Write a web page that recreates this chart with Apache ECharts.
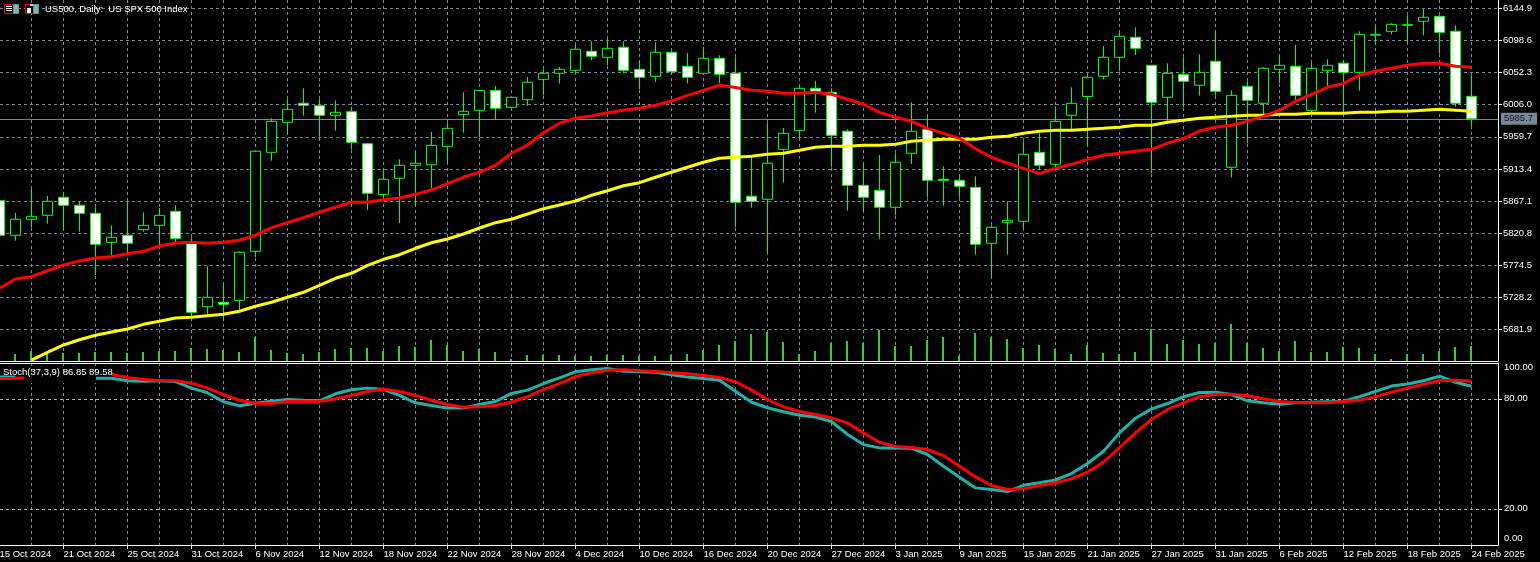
<!DOCTYPE html>
<html><head><meta charset="utf-8">
<style>html,body{margin:0;padding:0;background:#000}#c{width:1540px;height:562px}</style>
<script src="https://cdn.jsdelivr.net/npm/echarts@6/dist/echarts.min.js"></script>
</head><body><div id="c"></div>
<script>
const dates=["15 Oct 2024","16 Oct 2024","17 Oct 2024","18 Oct 2024","21 Oct 2024","22 Oct 2024","23 Oct 2024","24 Oct 2024","25 Oct 2024","28 Oct 2024","29 Oct 2024","30 Oct 2024","31 Oct 2024","1 Nov 2024","4 Nov 2024","5 Nov 2024","6 Nov 2024","7 Nov 2024","8 Nov 2024","11 Nov 2024","12 Nov 2024","13 Nov 2024","14 Nov 2024","15 Nov 2024","18 Nov 2024","19 Nov 2024","20 Nov 2024","21 Nov 2024","22 Nov 2024","25 Nov 2024","26 Nov 2024","27 Nov 2024","28 Nov 2024","29 Nov 2024","2 Dec 2024","3 Dec 2024","4 Dec 2024","5 Dec 2024","6 Dec 2024","9 Dec 2024","10 Dec 2024","11 Dec 2024","12 Dec 2024","13 Dec 2024","16 Dec 2024","17 Dec 2024","18 Dec 2024","19 Dec 2024","20 Dec 2024","23 Dec 2024","24 Dec 2024","26 Dec 2024","27 Dec 2024","30 Dec 2024","31 Dec 2024","2 Jan 2025","3 Jan 2025","6 Jan 2025","7 Jan 2025","8 Jan 2025","9 Jan 2025","10 Jan 2025","13 Jan 2025","14 Jan 2025","15 Jan 2025","16 Jan 2025","17 Jan 2025","20 Jan 2025","21 Jan 2025","22 Jan 2025","23 Jan 2025","24 Jan 2025","27 Jan 2025","28 Jan 2025","29 Jan 2025","30 Jan 2025","31 Jan 2025","3 Feb 2025","4 Feb 2025","5 Feb 2025","6 Feb 2025","7 Feb 2025","10 Feb 2025","11 Feb 2025","12 Feb 2025","13 Feb 2025","14 Feb 2025","17 Feb 2025","18 Feb 2025","19 Feb 2025","20 Feb 2025","21 Feb 2025","24 Feb 2025"];
const opens=[5867.5,5817.6,5840.7,5846.4,5872.4,5860.9,5849.3,5807.5,5817.6,5825.7,5832.0,5852.2,5806.1,5714.6,5721.0,5723.8,5794.5,5937.3,5980.6,6008.0,6004.5,5990.7,5995.9,5949.7,5876.7,5899.8,5918.6,5919.4,5945.4,5991.6,5997.9,6026.7,6002.2,6013.2,6042.6,6051.3,6055.6,6083.0,6074.4,6088.8,6057.0,6046.9,6081.6,6061.4,6051.3,6072.9,6051.3,5873.9,5869.5,5941.6,5968.5,6029.6,6023.9,5967.6,5889.7,5882.5,5858.0,5935.9,5970.5,5898.4,5896.9,5886.8,5806.1,5836.4,5837.8,5937.3,5920.0,5990.7,6017.8,6046.9,6074.4,6103.2,6062.8,6016.7,6049.8,6034.0,6068.6,5915.7,6032.5,6008.0,6057.0,6061.4,5997.9,6055.6,6065.7,6052.7,6106.1,6111.9,6120.5,6126.3,6133.5,6111.9,6018.1];
const closes=[5817.6,5840.7,5845.0,5866.6,5860.9,5849.3,5804.6,5814.7,5806.1,5832.0,5846.4,5812.7,5706.5,5728.2,5718.1,5793.1,5938.8,5982.0,5999.3,6005.1,5990.7,5995.0,5951.7,5878.2,5898.4,5918.6,5921.5,5947.4,5971.9,5996.5,6026.7,6000.8,6016.7,6038.3,6051.3,6057.0,6085.9,6075.8,6087.3,6055.6,6045.5,6081.6,6053.6,6045.5,6072.9,6049.8,5865.2,5866.6,5921.5,5964.7,6029.6,6023.9,5961.8,5889.7,5872.4,5858.0,5922.9,5967.6,5896.9,5896.9,5888.3,5804.6,5829.1,5839.2,5934.4,5918.6,5982.0,6008.0,6045.5,6074.4,6104.6,6087.3,6009.4,6051.3,6039.7,6052.7,6025.3,6019.5,6012.3,6058.5,6062.8,6019.5,6058.5,6062.8,6052.7,6107.5,6107.5,6121.9,6121.9,6132.0,6110.4,6008.0,5985.7];
const lows=[5810.8,5809.8,5828.6,5834.3,5825.2,5822.8,5760.3,5789.2,5789.2,5822.8,5803.6,5807.9,5700.2,5700.2,5696.4,5709.9,5785.9,5925.2,5963.7,5990.1,5959.8,5968.5,5941.6,5854.1,5870.0,5835.3,5860.3,5885.4,5922.3,5965.6,5959.0,5984.9,6001.9,6004.5,6019.5,6036.3,6051.3,6070.5,6062.8,6051.3,6028.2,6038.7,6048.8,6036.8,6051.0,6036.8,5829.1,5857.4,5792.5,5893.5,5959.4,5994.4,5915.7,5853.1,5853.1,5812.7,5846.4,5920.4,5872.4,5860.3,5871.8,5789.6,5756.4,5789.6,5827.1,5911.4,5915.7,5969.5,5947.9,6042.6,6054.2,6077.7,5907.0,5982.9,6002.2,6019.0,6019.0,5901.3,5950.3,5991.1,6036.8,6011.7,5993.6,6031.9,5994.4,6026.2,6094.0,6107.5,6094.5,6106.1,6080.1,6003.1,5975.3];
const highs=[5874.3,5849.8,5884.4,5874.3,5877.2,5866.6,5858.0,5832.0,5866.1,5850.8,5857.0,5860.9,5814.7,5772.9,5748.4,5794.5,5939.2,5986.4,6013.8,6029.6,6013.8,6012.3,6003.1,5950.7,5912.8,5927.2,5939.2,5966.6,5979.2,6023.9,6027.2,6033.0,6017.1,6045.9,6057.0,6060.4,6092.1,6097.4,6100.7,6097.4,6068.6,6096.0,6083.0,6080.6,6089.6,6077.2,6074.4,5930.1,5979.2,5972.4,6033.0,6040.2,6029.6,5970.5,5920.0,5933.4,5935.9,6009.4,5987.8,5917.1,5901.3,5902.7,5832.0,5866.6,5953.2,5964.7,6003.7,6031.1,6048.8,6090.6,6109.8,6117.6,6063.2,6065.7,6074.4,6078.7,6110.4,6026.7,6039.7,6059.9,6077.2,6092.1,6067.1,6071.5,6070.5,6111.9,6120.5,6123.4,6134.9,6144.0,6134.9,6120.5,6048.4];
const maFast=[5741.2,5754.6,5757.9,5766.5,5774.8,5780.5,5784.9,5786.7,5791.1,5794.5,5802.2,5806.5,5807.5,5806.1,5807.5,5810.4,5817.6,5828.6,5835.8,5843.0,5850.8,5858.0,5865.2,5865.2,5869.0,5871.4,5876.7,5882.9,5892.0,5901.3,5908.5,5918.6,5935.9,5947.9,5965.6,5979.2,5986.4,5989.7,5994.4,5997.9,6000.8,6005.1,6011.3,6019.0,6026.7,6034.0,6030.8,6026.7,6025.3,6022.4,6022.4,6023.9,6021.0,6013.8,6006.6,5995.0,5987.8,5982.0,5971.9,5964.7,5957.5,5942.5,5930.1,5921.5,5914.2,5906.5,5914.2,5920.0,5927.2,5933.0,5935.9,5938.8,5941.6,5950.3,5957.5,5968.0,5973.4,5976.3,5982.0,5989.2,5997.9,6010.9,6021.0,6031.1,6036.8,6048.4,6054.2,6058.5,6062.8,6065.7,6065.7,6061.4,6059.9];
const maSlow=[null,null,5637.7,5648.8,5659.4,5667.0,5673.4,5678.1,5682.5,5689.2,5693.6,5698.3,5699.3,5701.6,5703.7,5708.0,5715.2,5721.0,5728.2,5735.4,5745.5,5755.6,5762.8,5774.3,5783.0,5789.6,5798.9,5806.9,5812.3,5819.5,5828.1,5835.8,5840.7,5848.3,5856.0,5861.3,5867.1,5875.3,5881.9,5889.1,5893.5,5901.3,5908.5,5915.7,5922.9,5928.7,5930.1,5931.6,5934.4,5935.9,5940.2,5944.5,5946.0,5946.0,5947.4,5947.4,5948.9,5953.2,5954.6,5956.1,5956.1,5956.1,5959.0,5960.4,5964.7,5967.6,5969.1,5969.1,5970.5,5971.9,5973.4,5976.3,5976.3,5980.6,5983.5,5986.4,5987.8,5989.2,5990.7,5990.7,5992.1,5992.1,5993.6,5993.6,5993.6,5995.0,5995.0,5996.5,5996.5,5997.9,5999.3,5997.9,5996.5];
const volumes=[8,7,10,7,8,8,9,9,8,9,10,10,13,12,11,9,24,11,8,7,9,12,13,13,10,15,14,21,16,10,12,9,2,6,6,6,5,5,6,6,5,5,6,7,11,16,20,27,29,19,7,10,18,20,18,31,15,15,21,24,5,28,24,22,13,16,12,7,16,8,7,9,32,17,21,17,18,37,18,13,10,20,9,9,14,13,7,2,7,7,10,14,15];
const stochMain=[91.9,91.9,null,null,null,null,91.2,91.2,89.8,89.6,89.8,89.4,85.8,83.3,78.4,76.2,77.6,78.7,79.6,79.2,78.9,82.7,84.9,85.8,85.1,81.8,77.8,76.3,74.9,74.9,76.9,78.5,82.9,84.7,88.3,91.4,94.7,95.8,96.5,95.0,94.7,94.5,93.1,91.8,91.1,90.1,84.1,78.1,75.1,72.9,71.0,70.0,67.6,60.5,55.0,53.2,53.2,53.0,49.6,43.2,37.2,31.4,30.5,29.4,32.8,34.2,35.7,39.2,44.7,51.4,61.4,69.4,74.5,77.4,81.1,83.4,83.6,82.3,78.9,77.8,77.0,77.8,78.1,78.4,78.7,81.1,84.0,86.9,88.0,89.8,92.3,89.0,86.85];
const stochSignal=[90.9,91.2,91.4,null,null,null,null,93.2,91.6,90.5,90.0,89.8,88.5,85.8,82.2,79.2,77.6,77.4,78.5,78.5,78.5,80.0,81.8,84.0,85.2,84.0,81.8,79.2,76.9,75.4,75.6,76.3,78.1,81.1,85.1,88.3,92.0,94.2,95.6,95.8,95.3,94.9,94.2,93.6,92.7,91.6,89.3,84.7,79.6,75.6,73.1,71.4,69.6,66.7,61.4,56.3,54.0,53.4,52.3,49.0,43.2,37.4,32.7,30.5,30.9,32.7,34.2,36.3,40.0,45.4,53.3,61.4,68.7,74.2,77.8,81.1,82.5,82.5,81.6,80.0,78.5,78.0,77.8,77.8,78.5,79.2,81.1,83.6,85.8,87.9,89.8,90.1,89.58];
const priceTicks=[6144.9,6098.6,6052.3,6006.0,5959.7,5913.4,5867.1,5820.8,5774.5,5728.2,5681.9];
const stochLevels=[80,20];
const lastPrice=5985.7;
const titleText="US500, Daily:  US SPX 500 Index";
const stochText="Stoch(37,3,9) 86.85 89.58";

const FONT='"Liberation Sans"';
const FS=9.5;
const GRIDC='#778899';
const PRICE_MIN=5636.3, PRICE_MAX=6157.0, ST_MIN=0.25, ST_MAX=99.5;
const stochLabelPos=[3.64,20,80,96.9];
const dash={color:GRIDC,type:[3,3],width:1};

const chart=echarts.init(document.getElementById('c'),null,{renderer:'canvas'});
const hiddenVal=(gridIndex,extra)=>Object.assign({type:'value',gridIndex,min:1,max:2,position:'bottom',axisTick:{show:false},axisLabel:{show:false},splitLine:{show:false},axisLine:{show:true,onZero:false,lineStyle:{color:'#fff',width:1}}},extra||{});
const candleX=(gridIndex,extra)=>Object.assign({type:'category',gridIndex,data:dates,boundaryGap:false,axisLine:{show:false},axisTick:{show:false},axisLabel:{show:false},
  splitLine:{show:false}},extra||{});
const hiddenY=(gridIndex,min,max)=>({type:'value',gridIndex,min,max,show:false,splitLine:{show:false}});
const gridX={splitLine:{show:true,interval:1,lineStyle:dash}};
const G={outerBoundsMode:'none',containLabel:false};

chart.setOption({
  animation:false,
  backgroundColor:'#000',
  textStyle:{fontFamily:FONT},
  grid:[
    Object.assign({left:0,top:0,width:1498,height:361},G),
    Object.assign({left:-0.5,top:0,width:1472,height:361},G),
    Object.assign({left:0,top:363,width:1498,height:182},G),
    Object.assign({left:-0.5,top:363,width:1472,height:182},G),
    Object.assign({left:-1,top:0,width:1472,height:361},G)
  ],
  xAxis:[
    hiddenVal(0),
    candleX(1,gridX),
    hiddenVal(2),
    hiddenVal(2,{position:'top'}),
    candleX(3,Object.assign({axisLine:{show:true,onZero:false,lineStyle:{color:'#fff'}},
      axisTick:{show:true,interval:3,length:4,lineStyle:{color:'#fff'}},
      axisLabel:{show:true,interval:3,align:'left',color:'#fff',fontSize:FS,fontFamily:FONT,margin:4}},gridX)),
    candleX(4)
  ],
  yAxis:[
    {type:'value',gridIndex:0,position:'right',min:PRICE_MIN,max:PRICE_MAX,
      axisLine:{show:true,onZero:false,lineStyle:{color:'#fff'}},
      axisTick:{show:true,length:4,customValues:priceTicks,lineStyle:{color:'#fff'}},
      axisLabel:{customValues:priceTicks,color:'#fff',fontSize:FS,fontFamily:FONT,margin:5,padding:[2,0,0,0],formatter:v=>Number(v).toFixed(1)},
      splitLine:{show:true,lineStyle:dash}},
    hiddenY(1,PRICE_MIN,PRICE_MAX),
    {type:'value',gridIndex:2,position:'right',min:ST_MIN,max:ST_MAX,
      axisLine:{show:true,onZero:false,lineStyle:{color:'#fff'}},
      axisTick:{show:true,length:4,customValues:stochLevels,lineStyle:{color:'#fff'}},
      axisLabel:{customValues:stochLabelPos,color:'#fff',fontSize:FS,fontFamily:FONT,margin:6,padding:[2,0,0,0],
        formatter:v=>v>95?'100.00':v<5?'0.00':Number(v).toFixed(2)},
      splitLine:{show:false}},
    hiddenY(3,ST_MIN,ST_MAX),
    hiddenY(4,0,361)
  ],
  series:[
    {type:'line',xAxisIndex:0,yAxisIndex:0,data:[],z:1,silent:true,
      markLine:{silent:true,symbol:'none',z:1,animation:false,
        lineStyle:{color:GRIDC,type:'solid',width:1},
        label:{show:true,position:'end',distance:3,formatter:lastPrice.toFixed(1),color:'#111',backgroundColor:GRIDC,
          padding:[1,4,1,3],fontSize:FS,fontFamily:FONT},
        data:[{yAxis:lastPrice}]}},
    {type:'line',xAxisIndex:2,yAxisIndex:2,data:[],z:1,silent:true,
      markLine:{silent:true,symbol:'none',z:1,animation:false,
        lineStyle:{color:'#aab2bb',type:[3,3],width:1},label:{show:false},
        data:stochLevels.map(v=>({yAxis:v}))}},
    {name:'Volume',type:'bar',xAxisIndex:5,yAxisIndex:4,data:volumes,barWidth:2,z:2,clip:false,silent:true,
      itemStyle:{color:'#32cd32'}},
    {name:'US500',type:'candlestick',xAxisIndex:1,yAxisIndex:1,barWidth:10,z:3,clip:false,silent:true,
      data:opens.map((o,i)=>[o,closes[i],lows[i],highs[i]]),
      itemStyle:{color:'#000',color0:'#fff',borderColor:'#00ff00',borderColor0:'#00ff00',borderWidth:1}},
    {name:'MA slow',type:'line',xAxisIndex:1,yAxisIndex:1,data:maSlow,symbol:'none',z:4,clip:false,silent:true,connectNulls:false,
      lineStyle:{color:'#ffff00',width:3}},
    {name:'MA fast',type:'line',xAxisIndex:1,yAxisIndex:1,data:maFast,symbol:'none',z:5,clip:false,silent:true,
      lineStyle:{color:'#ff0000',width:3}},
    {name:'%K',type:'line',xAxisIndex:4,yAxisIndex:3,data:stochMain,symbol:'none',z:4,clip:false,silent:true,connectNulls:false,
      lineStyle:{color:'#20b2aa',width:3}},
    {name:'%D',type:'line',xAxisIndex:4,yAxisIndex:3,data:stochSignal,symbol:'none',z:5,clip:false,silent:true,connectNulls:false,
      lineStyle:{color:'#ff0000',width:3}}
  ],
  graphic:[
    {type:'rect',z:20,shape:{x:24,y:374,width:72,height:9},style:{fill:'#000'}},
    {type:'text',z:21,left:3,top:367,style:{text:stochText,fill:'#fff',font:FS+'px '+FONT}},
    {type:'text',z:21,left:45,top:4,style:{text:titleText,fill:'#fff',font:FS+'px '+FONT}},
    {type:'rect',z:21,shape:{x:4.5,y:4.5,width:9,height:9},style:{fill:'#000',stroke:'#f00'}},
    {type:'rect',z:21,shape:{x:6,y:6,width:6,height:1},style:{fill:'#fff'}},
    {type:'rect',z:21,shape:{x:6,y:8,width:6,height:1},style:{fill:'#fff'}},
    {type:'rect',z:21,shape:{x:6,y:10,width:6,height:1},style:{fill:'#fff'}},
    {type:'rect',z:21,shape:{x:13.5,y:4.5,width:5,height:9},style:{fill:'#9aa',stroke:'#20b2aa'}},
    {type:'rect',z:21,shape:{x:25.5,y:4.5,width:8,height:9},style:{fill:'#000',stroke:'#f00'}},
    {type:'rect',z:21,shape:{x:27,y:8,width:4,height:5},style:{fill:'#fff'}},
    {type:'rect',z:21,shape:{x:30,y:4,width:5,height:2},style:{fill:'#ccc'}},
    {type:'rect',z:21,shape:{x:33.5,y:4.5,width:5,height:9},style:{fill:'#9aa',stroke:'#20b2aa'}}
  ]
});
</script></body></html>
